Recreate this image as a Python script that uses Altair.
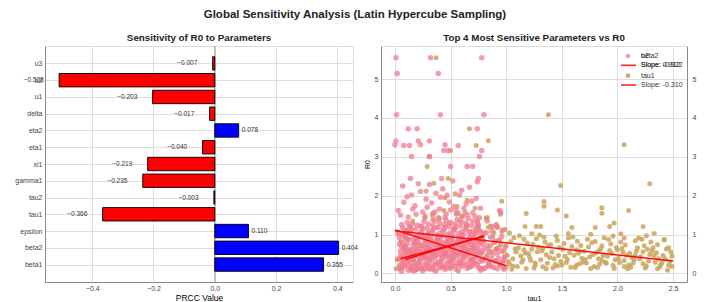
import altair as alt
import pandas as pd

# ---------------- left panel data ----------------
params = ["beta1", "beta2", "epsilon", "tau1", "tau2", "gamma1", "xi1",
          "eta1", "eta2", "delta", "u1", "u2", "u3"]
prcc = [0.355, 0.404, 0.110, -0.366, -0.003, -0.235, -0.219,
        -0.040, 0.078, -0.017, -0.203, -0.508, -0.007]

# ---------------- right panel data ----------------
tau1_pts = [
    (0.02,0.35),(0.05,0.82),(0.07,0.15),(0.03,1.05),(0.09,0.55),(0.04,0.22),(0.08,0.68),(0.06,0.41),(0.01,0.12),(0.09,0.93),
    (0.12,0.48),(0.15,0.19),(0.18,0.77),(0.11,1.12),(0.17,0.33),(0.14,0.61),(0.19,0.09),(0.13,0.88),(0.16,1.35),(0.18,0.52),
    (0.22,0.27),(0.25,0.95),(0.28,0.58),(0.21,0.14),(0.27,1.48),(0.24,0.71),(0.29,0.38),(0.23,1.22),(0.26,0.45),(0.28,2.12),
    (0.31,0.62),(0.34,1.55),(0.36,0.24),(0.33,0.85),(0.38,1.18),(0.32,0.11),(0.37,0.49),(0.35,2.32),(0.39,0.74),(0.30,1.05),(0.34,1.38),
    (0.41,0.31),(0.44,1.62),(0.46,0.57),(0.43,0.98),(0.48,1.28),(0.42,0.16),(0.47,0.83),(0.45,1.95),(0.49,0.42),(0.40,1.41),(0.44,0.66),
    (0.52,0.35),(0.55,1.52),(0.57,0.78),(0.53,1.15),(0.58,0.21),(0.51,0.92),(0.56,1.72),(0.59,0.54),(0.54,2.05),(0.50,0.13),(0.58,1.34),
    (0.61,0.44),(0.64,1.25),(0.66,0.86),(0.63,1.58),(0.68,0.18),(0.62,0.69),(0.67,1.08),(0.65,1.88),(0.69,0.37),(0.60,1.46),(0.66,0.59),
    (0.71,0.27),(0.74,1.36),(0.76,0.81),(0.73,1.05),(0.78,0.52),(0.72,1.68),(0.77,0.14),(0.75,1.21),(0.79,0.95),(0.70,0.63),(0.76,1.12),
    (0.81,0.39),(0.84,1.19),(0.86,0.72),(0.83,0.18),(0.88,0.95),(0.82,1.42),(0.87,0.56),(0.85,0.28),(0.89,1.05),(0.80,0.84),(0.86,1.22),(0.83,0.47),
    (0.91,0.62),(0.94,0.23),(0.96,1.08),(0.93,0.85),(0.98,0.41),(0.92,1.21),(0.97,0.15),(0.95,0.74),(0.99,1.13),(0.90,0.33),(0.95,1.52),(0.98,0.58),
    (1.01,0.47),(1.04,0.82),(1.06,0.19),(1.03,1.04),(1.08,0.63),(1.02,0.31),(1.07,0.92),(1.05,0.11),(1.09,0.55),(1.00,0.71),(1.06,0.38),(1.03,0.24),
    (1.11,0.66),(1.14,0.29),(1.16,0.88),(1.13,0.45),(1.18,0.13),(1.12,0.97),(1.17,0.52),(1.15,0.35),(1.19,0.78),(1.10,0.18),(1.16,0.61),
    (1.21,0.42),(1.24,0.75),(1.26,0.21),(1.23,1.02),(1.28,0.56),(1.22,0.33),(1.27,0.89),(1.25,0.14),(1.29,0.68),(1.20,0.51),(1.26,0.27),(1.23,0.62),
    (1.31,0.35),(1.34,0.93),(1.36,0.48),(1.33,0.17),(1.38,0.72),(1.32,0.58),(1.37,0.26),(1.35,0.81),(1.39,0.41),(1.30,0.99),(1.36,0.12),(1.33,0.64),
    (1.41,0.55),(1.44,0.23),(1.46,0.85),(1.43,0.38),(1.48,0.67),(1.42,0.14),(1.47,0.46),(1.45,0.96),(1.49,0.31),(1.40,0.74),(1.46,0.19),
    (1.51,0.62),(1.54,0.28),(1.56,0.91),(1.53,0.44),(1.58,0.16),(1.52,0.77),(1.57,0.53),(1.55,0.36),(1.59,0.69),(1.50,0.22),(1.56,1.03),
    (1.61,0.47),(1.64,0.83),(1.66,0.25),(1.63,0.61),(1.68,0.39),(1.62,0.15),(1.67,0.72),(1.65,0.52),(1.69,0.29),(1.60,0.94),(1.66,0.58),(1.63,0.21),
    (1.71,0.36),(1.74,0.68),(1.76,0.13),(1.73,0.88),(1.78,0.49),(1.72,0.27),(1.77,0.79),(1.75,0.42),(1.79,0.18),(1.70,0.57),(1.76,1.01),
    (1.81,0.53),(1.84,0.24),(1.86,0.71),(1.83,0.38),(1.88,0.92),(1.82,0.15),(1.87,0.46),(1.85,0.63),(1.89,0.29),(1.80,0.82),(1.86,0.34),(1.83,0.58),
    (1.91,0.44),(1.94,0.76),(1.96,0.21),(1.93,0.59),(1.98,0.35),(1.92,0.87),(1.97,0.13),(1.95,0.51),(1.99,0.67),(1.90,0.26),(1.96,0.96),
    (2.01,0.39),(2.04,0.64),(2.06,0.18),(2.03,0.81),(2.08,0.47),(2.02,0.28),(2.07,0.73),(2.05,0.55),(2.09,0.12),(2.00,0.61),(2.06,0.33),(2.03,1.02),
    (2.11,0.52),(2.14,0.27),(2.16,0.84),(2.13,0.41),(2.18,0.66),(2.12,0.16),(2.17,0.58),(2.15,0.35),(2.19,0.91),(2.10,0.22),(2.16,0.47),
    (2.21,0.43),(2.24,0.71),(2.26,0.19),(2.23,0.56),(2.28,0.32),(2.22,0.88),(2.27,0.62),(2.25,0.14),(2.29,0.49),(2.20,0.37),(2.26,0.97),(2.23,0.25),
    (2.31,0.58),(2.34,0.29),(2.36,0.74),(2.33,0.45),(2.38,0.17),(2.32,0.66),(2.37,0.38),(2.35,0.53),(2.39,0.23),(2.30,0.81),(2.36,0.12),
    (2.41,0.46),(2.44,0.63),(2.46,0.21),(2.43,0.37),(2.48,0.55),(2.42,0.86),(2.47,0.31),(2.45,0.08),(2.49,0.44),(2.40,0.28),(2.46,0.66),(2.49,0.18),
    # high values
    (0.37,5.55),(1.38,4.08),(0.67,3.72),(0.84,3.41),(0.73,3.29),(2.06,3.31),(0.50,3.16),(0.31,3.01),(0.29,2.75),(0.48,2.44),
    (1.49,2.26),(2.29,2.31),(0.96,1.86),(1.34,1.85),(1.34,1.73),(1.46,1.63),(1.18,1.54),(1.54,1.48),(1.86,1.69),(1.86,1.55),
    (2.10,1.62),(0.83,1.44),(1.97,1.30),(2.23,1.21),(1.93,1.21),(1.80,1.18),(1.31,1.21),(1.27,1.21),(1.17,1.21),(1.59,1.18),
    (2.33,1.03),(2.42,0.87),(2.06,0.91),
]

other_pts = [
    (0.04,0.12),(0.06,0.35),(0.05,0.58),(0.07,0.81),(0.03,1.02),(0.08,0.24),(0.05,0.47),(0.06,0.69),(0.04,0.92),(0.07,1.18),(0.05,0.16),(0.08,0.62),(0.06,1.26),(0.03,0.38),
    (0.09,0.19),(0.11,0.42),(0.10,0.66),(0.12,0.88),(0.09,1.11),(0.13,0.29),(0.10,0.53),(0.11,0.77),(0.12,0.08),(0.09,0.97),(0.13,1.22),(0.10,0.36),(0.12,0.61),(0.11,1.31),
    (0.14,0.14),(0.16,0.37),(0.15,0.59),(0.17,0.83),(0.14,1.06),(0.18,0.26),(0.15,0.49),(0.16,0.72),(0.17,0.95),(0.14,1.19),(0.18,0.64),(0.15,0.09),(0.16,1.28),(0.17,0.44),
    (0.19,0.21),(0.21,0.45),(0.20,0.68),(0.22,0.91),(0.19,1.14),(0.23,0.33),(0.20,0.11),(0.21,0.79),(0.22,0.56),(0.19,0.86),(0.23,1.03),(0.20,1.24),(0.22,0.18),(0.21,0.62),
    (0.24,0.13),(0.26,0.39),(0.25,0.62),(0.27,0.85),(0.24,1.08),(0.28,0.27),(0.25,0.51),(0.26,0.74),(0.27,0.97),(0.24,1.21),(0.28,0.67),(0.25,0.07),(0.26,1.33),(0.27,0.43),
    (0.29,0.22),(0.31,0.47),(0.30,0.71),(0.32,0.94),(0.29,1.16),(0.33,0.35),(0.30,0.12),(0.31,0.82),(0.32,0.58),(0.29,0.88),(0.33,1.07),(0.30,1.27),(0.32,0.19),(0.31,0.64),
    (0.34,0.15),(0.36,0.41),(0.35,0.65),(0.37,0.87),(0.34,1.12),(0.38,0.29),(0.35,0.53),(0.36,0.76),(0.37,0.99),(0.34,1.24),(0.38,0.69),(0.35,0.09),(0.36,1.35),(0.37,0.46),
    (0.39,0.24),(0.41,0.49),(0.40,0.73),(0.42,0.96),(0.39,1.18),(0.43,0.37),(0.40,0.14),(0.41,0.84),(0.42,0.61),(0.39,0.91),(0.43,1.09),(0.40,1.29),(0.42,0.21),(0.41,0.66),
    (0.44,0.17),(0.46,0.43),(0.45,0.67),(0.47,0.89),(0.44,1.13),(0.48,0.31),(0.45,0.55),(0.46,0.78),(0.47,1.01),(0.44,1.25),(0.48,0.71),(0.45,0.10),(0.46,1.37),(0.47,0.48),
    (0.49,0.26),(0.51,0.51),(0.50,0.75),(0.52,0.98),(0.49,1.20),(0.53,0.39),(0.50,0.16),(0.51,0.86),(0.52,0.63),(0.49,0.93),(0.53,1.11),(0.50,1.31),(0.52,0.23),(0.51,0.68),
    (0.54,0.19),(0.56,0.44),(0.55,0.69),(0.57,0.91),(0.54,1.15),(0.58,0.33),(0.55,0.57),(0.56,0.80),(0.57,1.03),(0.54,1.27),(0.58,0.73),(0.55,0.11),(0.56,1.39),(0.57,0.50),
    (0.59,0.28),(0.61,0.53),(0.60,0.77),(0.62,1.00),(0.59,1.22),(0.63,0.41),(0.60,0.18),(0.61,0.88),(0.62,0.65),(0.59,0.95),(0.63,1.13),(0.60,1.33),(0.62,0.25),(0.61,0.70),
    (0.64,0.21),(0.66,0.46),(0.65,0.71),(0.67,0.93),(0.64,1.17),(0.68,0.35),(0.65,0.59),(0.66,0.82),(0.67,1.05),(0.64,1.29),(0.68,0.75),(0.65,0.13),(0.66,1.41),(0.67,0.52),
    (0.69,0.30),(0.71,0.55),(0.70,0.79),(0.72,1.02),(0.69,1.24),(0.73,0.43),(0.70,0.20),(0.71,0.90),(0.72,0.67),(0.69,0.97),(0.73,1.15),(0.70,1.35),(0.72,0.27),(0.71,0.72),
    (0.74,0.23),(0.76,0.48),(0.75,0.73),(0.77,0.95),(0.74,1.19),(0.78,0.37),(0.75,0.61),(0.76,0.84),(0.77,1.07),(0.74,1.31),(0.78,0.77),(0.75,0.15),(0.76,1.43),(0.77,0.54),
    (0.79,0.32),(0.79,0.57),(0.79,0.81),(0.80,1.04),(0.79,0.12),(0.80,0.66),
    (0.06,0.05),(0.08,0.44),(0.04,0.75),(0.07,0.99),(0.11,0.22),(0.13,0.51),(0.09,0.71),(0.12,1.04),(0.16,0.18),(0.14,0.46),
    (0.18,0.79),(0.15,1.12),(0.21,0.29),(0.19,0.55),(0.23,0.74),(0.20,0.97),(0.26,0.21),(0.24,0.47),(0.28,0.81),(0.25,1.15),
    (0.31,0.31),(0.29,0.56),(0.33,0.77),(0.30,1.01),(0.36,0.23),(0.34,0.49),(0.38,0.83),(0.35,1.17),(0.41,0.33),(0.39,0.58),
    (0.43,0.79),(0.40,1.03),(0.46,0.25),(0.44,0.51),(0.48,0.85),(0.45,1.19),(0.51,0.35),(0.49,0.60),(0.53,0.81),(0.50,1.05),
    (0.56,0.27),(0.54,0.53),(0.58,0.87),(0.55,1.21),(0.61,0.37),(0.59,0.62),(0.63,0.83),(0.60,1.07),(0.66,0.29),(0.64,0.55),
    (0.68,0.89),(0.65,1.23),(0.71,0.39),(0.69,0.64),(0.73,0.85),(0.70,1.09),(0.76,0.31),(0.74,0.57),(0.78,0.91),(0.75,1.25),
    (0.07,0.28),(0.17,0.06),(0.27,0.12),(0.37,0.06),(0.47,0.14),(0.57,0.07),(0.67,0.16),(0.77,0.08),(0.12,0.34),(0.22,0.40),
    (0.32,0.42),(0.42,0.44),(0.52,0.46),(0.62,0.48),(0.72,0.50),(0.10,0.90),(0.20,0.93),(0.30,0.95),(0.40,0.97),(0.60,0.99),
    # sparse upper
    (0.03,1.62),(0.07,2.25),(0.12,1.45),(0.15,2.02),(0.18,1.74),(0.21,2.31),(0.25,1.58),(0.28,1.91),(0.31,2.29),(0.34,1.49),
    (0.37,2.06),(0.40,1.66),(0.43,2.18),(0.46,1.53),(0.49,1.84),(0.52,2.38),(0.55,1.61),(0.58,2.01),(0.61,1.47),(0.64,1.79),
    (0.67,2.22),(0.70,1.56),(0.73,1.93),(0.77,1.68),(0.08,1.83),(0.11,1.97),(0.19,1.52),(0.23,2.11),(0.27,1.42),(0.33,1.81),
    (0.36,1.58),(0.41,1.96),(0.45,1.44),(0.50,1.63),(0.53,1.72),(0.60,2.14),(0.65,1.51),(0.69,1.86),(0.74,2.36),(0.05,1.50),
    (0.16,1.66),(0.29,1.70),(0.39,1.43),(0.47,2.01),(0.57,1.55),(0.62,1.68),(0.72,1.47),
    # 0.8 - 1.0
    (0.81,0.14),(0.82,0.42),(0.83,0.71),(0.84,0.26),(0.85,0.55),(0.86,0.93),(0.87,0.18),(0.88,0.48),(0.89,0.79),(0.90,0.31),
    (0.91,0.62),(0.92,0.12),(0.93,0.39),(0.94,0.86),(0.95,0.22),(0.96,0.57),(0.97,1.12),(0.98,0.34),(0.99,0.68),(1.00,0.16),
    (0.82,1.05),(0.84,0.61),(0.86,0.37),(0.88,1.21),(0.90,0.83),(0.92,0.52),(0.94,0.27),(0.96,0.95),(0.98,0.11),(0.83,1.35),
    (0.87,1.09),(0.91,1.26),(0.95,1.58),(0.99,0.44),(0.85,0.20),(0.93,0.67),(0.97,0.29),(0.89,0.15),(0.94,1.62),(0.92,1.18),
    # high values
    (0.01,5.55),(0.02,5.14),(0.32,5.55),(0.39,5.14),(0.78,5.55),(0.015,4.08),(0.41,4.08),(0.80,4.08),(0.12,3.72),(0.20,3.72),
    (0.74,3.72),(0.01,3.41),(0.21,3.41),(0.31,3.41),(0.00,3.31),(0.08,3.29),(0.13,3.29),(0.23,3.31),(0.45,3.31),(0.57,3.29),
    (0.44,3.16),(0.48,3.16),(0.78,3.16),(0.15,3.01),(0.31,3.01),(0.76,3.01),(0.50,2.75),(0.65,2.75),(0.70,2.75),(0.14,2.44),
    (0.42,2.44),(0.75,2.44),
]

# fitted regression lines (start x, start y, end x, end y)
fit_x0 = [0.00, 0.00, 0.05, 0.09]
fit_y0 = [1.10, 1.12, 0.38, 0.36]
fit_x1 = [2.50, 1.00, 0.80, 0.80]
fit_y1 = [0.32, 0.20, 0.95, 0.97]

legend_labels_1 = ["u2", "beta2"]
legend_labels_2 = ["Slope: -0.922", "Slope: 0.812"]
legend_labels_3 = ["tau1"]
legend_labels_4 = ["Slope: -0.310"]

FONT = "Liberation Sans"
PINK = "#f27a93"
GOLD = "#c9a55a"
GRID = "#e3e3e3"
LABEL = "#444444"

# ---------------- left panel ----------------
bar_df = pd.DataFrame({"param": params, "prcc": prcc, "idx": list(range(len(params)))})
label_expr = "[" + ",".join("'%s'" % p for p in params) + "][datum.value]"

lbase = alt.Chart(bar_df).transform_calculate(
    lo="datum.idx - 0.4", hi="datum.idx + 0.4",
    zero="0",
)

xs_left = alt.Scale(domain=[-0.554, 0.451], nice=False, zero=False)
ys_left = alt.Scale(domain=[-1.04, 13.04], nice=False, zero=False)

lx_axis = alt.Axis(values=[-0.4, -0.2, 0.0, 0.2, 0.4], format=".1f", title="PRCC Value",
                   grid=True, labelFontSize=7, titleFontSize=8.5, titleFontWeight="normal",
                   labelPadding=2, titlePadding=2, tickSize=0, ticks=False, labelOverlap=False,
                   labelColor=LABEL)
ly_axis = alt.Axis(values=list(range(len(params))), labelExpr=label_expr, title=None,
                   grid=True, labelFontSize=7, labelPadding=3, labelOverlap=False,
                   tickSize=0, ticks=False, minExtent=31, maxExtent=31, labelColor=LABEL)

bars = lbase.mark_bar(stroke="black", strokeWidth=0.9).encode(
    x=alt.X("prcc:Q", scale=xs_left, axis=lx_axis),
    x2=alt.X2("zero:Q"),
    y=alt.Y("lo:Q", scale=ys_left, axis=ly_axis),
    y2=alt.Y2("hi:Q"),
    color=alt.condition("datum.prcc > 0", alt.value("#0000ff"), alt.value("#ff0000")),
)

zero_rule = alt.Chart(bar_df).mark_rule(color="black", opacity=0.45, strokeWidth=0.8).encode(
    x=alt.X("zero:Q", scale=xs_left, axis=lx_axis)
).transform_filter("datum.idx == 0").transform_calculate(zero="0")

pos_text = lbase.transform_filter("datum.prcc > 0").transform_calculate(
    tx="datum.prcc + 0.01", lbl="format(datum.prcc, '.3f')"
).mark_text(align="left", baseline="middle", fontSize=6.5, color="#333", font=FONT).encode(
    x=alt.X("tx:Q", scale=xs_left, axis=lx_axis), y=alt.Y("idx:Q", scale=ys_left, axis=ly_axis), text="lbl:N")

neg_text = lbase.transform_filter("datum.prcc <= 0").transform_calculate(
    tx="datum.prcc - 0.05", lbl="format(datum.prcc, '.3f')"
).mark_text(align="right", baseline="middle", fontSize=6.5, color="#333", font=FONT).encode(
    x=alt.X("tx:Q", scale=xs_left, axis=lx_axis), y=alt.Y("idx:Q", scale=ys_left, axis=ly_axis), text="lbl:N")

left = alt.layer(bars, zero_rule, pos_text, neg_text).properties(
    width=308, height=236,
    title=alt.TitleParams("Sensitivity of R0 to Parameters", fontSize=9.8, fontWeight="bold",
                          font=FONT, color="#222", offset=3),
)

# ---------------- right panel ----------------
tau_df = pd.DataFrame(tau1_pts, columns=["x", "y"])
oth_df = pd.DataFrame(other_pts, columns=["x", "y"])
fit_df = pd.DataFrame({"x0": fit_x0, "y0": fit_y0, "x1": fit_x1, "y1": fit_y1})

xs_right = alt.Scale(domain=[-0.125, 2.625], nice=False, zero=False)
ys_right = alt.Scale(domain=[-0.22, 5.85], nice=False, zero=False)

x_ax = alt.Axis(values=[0, 0.5, 1.0, 1.5, 2.0, 2.5], format=".1f", title="tau1", grid=True,
                labelFontSize=7, titleFontSize=7, titleFontWeight="normal", labelPadding=2, titlePadding=3,
                tickSize=0, ticks=False, labelColor=LABEL)
y_ax = alt.Axis(values=[0, 1, 2, 3, 4, 5], title="R0", grid=True, labelFontSize=7,
                titleFontSize=7, titleFontWeight="normal", labelPadding=3, titlePadding=4,
                tickSize=0, ticks=False, labelColor=LABEL)

gold = alt.Chart(tau_df).mark_circle(size=25, color=GOLD, opacity=0.85).encode(
    x=alt.X("x:Q", scale=xs_right, axis=x_ax),
    y=alt.Y("y:Q", scale=ys_right, axis=y_ax),
)
pink = alt.Chart(oth_df).mark_circle(size=30, color=PINK, opacity=0.75).encode(
    x=alt.X("x:Q", scale=xs_right, axis=x_ax),
    y=alt.Y("y:Q", scale=ys_right, axis=y_ax),
)
fits = alt.Chart(fit_df).mark_rule(color="#ff0000", strokeWidth=1.5, opacity=0.95).encode(
    x=alt.X("x0:Q", scale=xs_right, axis=x_ax), y=alt.Y("y0:Q", scale=ys_right, axis=y_ax),
    x2="x1:Q", y2="y1:Q",
)

# legend (drawn by hand to mimic the overlapping legends)
leg_sym = alt.Chart(pd.DataFrame({"k": [0]})).mark_circle(size=22, color=PINK, opacity=0.8).encode(
    x=alt.value(247), y=alt.value(10))
leg_sym2 = alt.Chart(pd.DataFrame({"k": [0]})).mark_circle(size=22, color=GOLD, opacity=0.9).encode(
    x=alt.value(247), y=alt.value(29.7))
leg_line = alt.Chart(pd.DataFrame({"k": [0]})).mark_rule(color="#ff0000", strokeWidth=1.6, opacity=0.85).encode(
    x=alt.value(240), x2=alt.value(255), y=alt.value(19.3))
leg_line2 = alt.Chart(pd.DataFrame({"k": [0]})).mark_rule(color="#ff0000", strokeWidth=1.6, opacity=0.85).encode(
    x=alt.value(240), x2=alt.value(255), y=alt.value(39))

def leg_text(labels, ypix):
    return alt.Chart(pd.DataFrame({"t": labels})).mark_text(
        align="left", baseline="middle", fontSize=7, color="#333", font=FONT
    ).encode(x=alt.value(260), y=alt.value(ypix), text="t:N")

right_axis = alt.Chart(tau_df).mark_point(opacity=0).encode(
    x=alt.X("x:Q", scale=xs_right, axis=x_ax),
    y=alt.Y("y:Q", scale=ys_right,
            axis=alt.Axis(orient="right", values=[0, 1, 2, 3, 4, 5], title=None, grid=False,
                          labelFontSize=7, labelPadding=5, tickSize=0, ticks=False, labelColor=LABEL)),
)

main_layer = alt.layer(gold, pink, fits, leg_sym, leg_line, leg_sym2, leg_line2,
                       leg_text(legend_labels_1, 10), leg_text(legend_labels_2, 19.3),
                       leg_text(legend_labels_3, 29.7), leg_text(legend_labels_4, 39))

right = alt.layer(main_layer, right_axis).resolve_scale(y="independent").properties(
    width=306, height=236,
    title=alt.TitleParams("Top 4 Most Sensitive Parameters vs R0", fontSize=9.8, fontWeight="bold",
                          font=FONT, color="#222", offset=3),
)

chart = alt.hconcat(left, right, spacing=3).properties(
    title=alt.TitleParams("Global Sensitivity Analysis (Latin Hypercube Sampling)", fontSize=11.5,
                          fontWeight="bold", font=FONT, color="#222", anchor="middle", offset=12),
    padding={"left": 5, "top": 0, "right": 5, "bottom": 0},
).configure_axis(
    domain=False, gridColor=GRID, gridWidth=1, labelColor=LABEL,
    titleColor="#333", labelFont=FONT, titleFont=FONT,
).configure_view(
    stroke="#d4d4d4", strokeWidth=1,
).configure(background="white")

chart.save("out.html", embed_options={"renderer": "svg", "actions": False})
